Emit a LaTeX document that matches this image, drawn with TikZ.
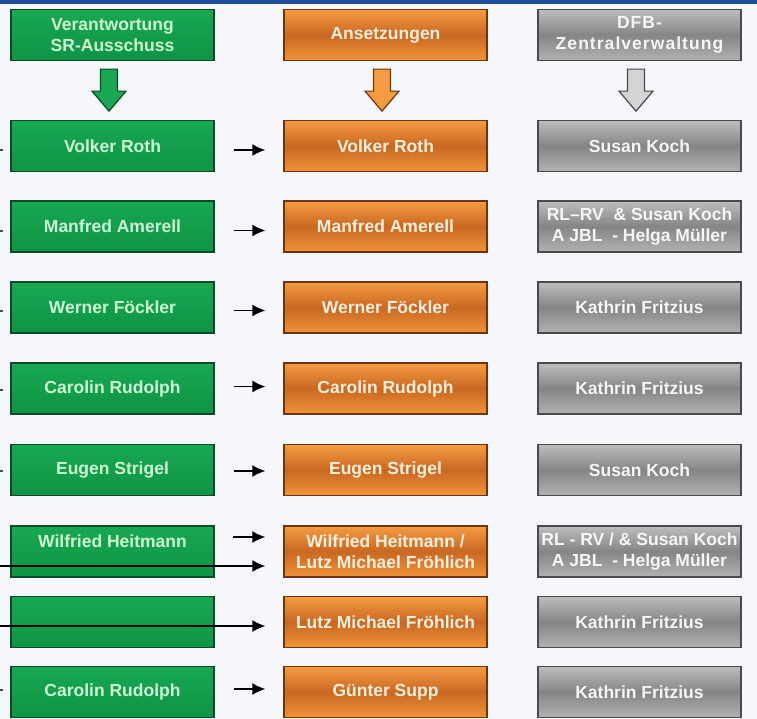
\documentclass[tikz,border=0pt]{standalone}
\usepackage{fontspec}
\setmainfont{Liberation Sans}
\usetikzlibrary{arrows.meta,calc}
\definecolor{bg}{HTML}{F6F7FA}
\definecolor{topbar}{HTML}{1B4F9C}
\definecolor{gtop}{HTML}{18A852}
\definecolor{gbot}{HTML}{0E9445}
\definecolor{gdark}{HTML}{0A4A24}
\definecolor{gtxt}{HTML}{CDF7D3}
\definecolor{otop}{HTML}{F59B42}
\definecolor{omid}{HTML}{C96822}
\definecolor{obot}{HTML}{F29238}
\definecolor{odark}{HTML}{6E3510}
\definecolor{otxt}{HTML}{FFF1DE}
\definecolor{ytop}{HTML}{BDBDBD}
\definecolor{ymid}{HTML}{858585}
\definecolor{ybot}{HTML}{B2B2B2}
\definecolor{ydark}{HTML}{4A4A4A}
\definecolor{ytxt}{HTML}{F6F6F6}
\definecolor{yarrow}{HTML}{D4D4D4}
\begin{document}
\begin{tikzpicture}[x=1pt,y=-1pt,
  box/.style={draw, line width=1.3pt, minimum width=203pt, minimum height=51pt,
    inner sep=0pt, align=center, font=\fontsize{17.5}{21}\selectfont\bfseries},
  gbox/.style={box, draw=gdark, top color=gtop, bottom color=gbot, text=gtxt},
  obox/.style={box, draw=odark, top color=otop, bottom color=obot, middle color=omid, text=otxt},
  ybox/.style={box, draw=ydark, top color=ytop, bottom color=ybot, middle color=ymid, text=ytxt},
  txtonly/.style={inner sep=0pt, align=center, font=\fontsize{17.5}{21}\selectfont\bfseries},
  conn/.style={line width=1.6pt, black, -{Latex[length=13pt,width=12pt]}, shorten >=18pt},
  stub/.style={line width=1.4pt, black!70},
  blockarrow/.style={line width=1.2pt}
]
\useasboundingbox (0,0) rectangle (757,719);
\fill[bg] (0,0) rectangle (757,719);
\fill[topbar] (0,0) rectangle (757,4);

% header row
\node[gbox] (gh) at (112.5,35) {Verantwortung\\SR-Ausschuss};
\node[obox] (oh) at (385.5,35) {Ansetzungen};
\node[ybox] (yh) at (639.5,35) {\addfontfeatures{LetterSpace=6}DFB-\\\addfontfeatures{LetterSpace=6}Zentralverwaltung};

% block arrows
\foreach \n/\f/\d in {gh/gtop/gdark, oh/otop/odark, yh/yarrow/ydark}{
  \path[blockarrow, fill=\f, draw=\d]
    ($(\n.south)+(-12,8)$) -- ($(\n.south)+(5,8)$) -- ($(\n.south)+(5,30)$) --
    ($(\n.south)+(13.5,30)$) -- ($(\n.south)+(-3.5,50)$) -- ($(\n.south)+(-20.5,30)$) --
    ($(\n.south)+(-12,30)$) -- cycle;
}

% rows
\node[gbox] (g1) at (112.5,146) {Volker Roth};
\node[obox] (o1) at (385.5,146) {Volker Roth};
\node[ybox] (y1) at (639.5,146) {Susan Koch};

\node[gbox] (g2) at (112.5,226.5) {Manfred Amerell};
\node[obox] (o2) at (385.5,226.5) {Manfred Amerell};
\node[ybox] (y2) at (639.5,226.5) {RL--RV\ \ \& Susan Koch\\A JBL\ \ - Helga Müller};

\node[gbox] (g3) at (112.5,307.5) {Werner Föckler};
\node[obox] (o3) at (385.5,307.5) {Werner Föckler};
\node[ybox] (y3) at (639.5,307.5) {Kathrin Fritzius};

\node[gbox] (g4) at (112.5,388.5) {Carolin Rudolph};
\node[obox] (o4) at (385.5,388.5) {Carolin Rudolph};
\node[ybox] (y4) at (639.5,388.5) {Kathrin Fritzius};

\node[gbox] (g5) at (112.5,470) {Eugen Strigel};
\node[obox] (o5) at (385.5,470) {Eugen Strigel};
\node[ybox] (y5) at (639.5,470) {Susan Koch};

\node[gbox] (g6) at (112.5,551.5) {};
\node[txtonly, text=gtxt] (g6t) at (112.5,541) {Wilfried Heitmann};
\node[obox] (o6) at (385.5,551.5) {Wilfried Heitmann /\\Lutz Michael Fröhlich};
\node[ybox] (y6) at (639.5,551.5) {RL - RV / \& Susan Koch\\A JBL\ \ - Helga Müller};

\node[gbox] (g7) at (112.5,622) {};
\node[obox] (o7) at (385.5,622) {Lutz Michael Fröhlich};
\node[ybox] (y7) at (639.5,622) {Kathrin Fritzius};

\node[gbox] (g8) at (112.5,692) {Carolin Rudolph};
\node[obox] (o8) at (385.5,692) {Günter Supp};
\node[ybox] (y8) at (639.5,692) {Kathrin Fritzius};

% connectors green -> orange
\foreach \i/\dy in {1/4, 2/4, 3/3, 4/-2, 5/1, 8/-3}{
  \draw[conn, shorten <=19pt] ($(g\i.east)+(0,\dy)$) -- ($(o\i.west)+(0,\dy)$);
}
\coordinate (a6) at (233,537);
\draw[conn] (a6) -- (o6.west |- a6);
\coordinate (l6) at (0,566);
\draw[conn] (l6) -- (o6.west |- l6);
\coordinate (l7) at (0,626);
\draw[conn] (l7) -- (o7.west |- l7);

% stubs at the left edge
\foreach \y in {150,231,311,390,471,690}{
  \coordinate (s\y) at (0,\y);
  \draw[stub] (s\y) -- ++(3,0);
}
\end{tikzpicture}
\end{document}
